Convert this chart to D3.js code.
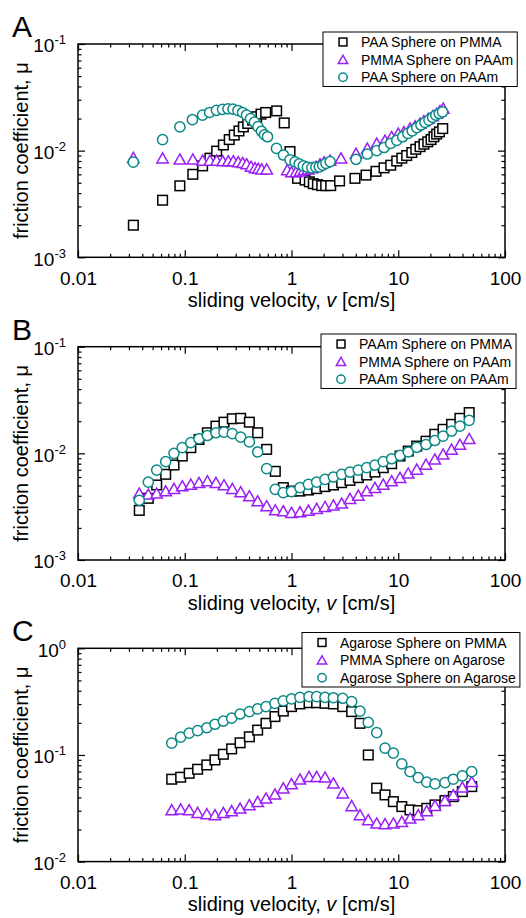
<!DOCTYPE html>
<html>
<head>
<meta charset="utf-8">
<script src="https://cdn.jsdelivr.net/npm/d3@7"></script>
<style>
  body { margin: 0; background: #fff; }
  svg { display: block; font-family: "Liberation Sans", Arial, sans-serif; }
</style>
</head>
<body>
<svg id="chart" width="526" height="918"></svg>
<script>
// ---- panel A : PAA ----
var vA_sq = [0.033, 0.062, 0.090, 0.119, 0.147, 0.172, 0.199, 0.230, 0.261, 0.291, 0.322, 0.354, 0.389, 0.433, 0.472, 0.518, 0.573, 0.726, 0.855, 0.968,
             1.14, 1.34, 1.47, 1.60, 1.75, 1.92, 2.09, 2.33, 2.82, 3.93, 4.99, 6.19, 7.36, 8.5, 9.68, 10.8, 12.0, 13.4, 14.6, 16.0, 17.4, 18.9, 20.3, 21.6, 22.9, 24.3, 26.1];
var muA_sq = [0.0020, 0.00343, 0.00468, 0.0060, 0.0072, 0.0085, 0.0099, 0.0113, 0.0127, 0.0140, 0.0153, 0.0167, 0.0180, 0.0193, 0.0208, 0.0220, 0.0228, 0.0236, 0.0182, 0.0098,
              0.0055, 0.0053, 0.0051, 0.0049, 0.0048, 0.0047, 0.0047, 0.0047, 0.0052, 0.0055, 0.0059, 0.0064, 0.0069, 0.0073, 0.0080, 0.0085, 0.0090, 0.0096, 0.0103, 0.0109, 0.0115, 0.0121, 0.0127, 0.0135, 0.0143, 0.0150, 0.0161];

var vA_tri = [0.033, 0.062, 0.090, 0.119, 0.147, 0.172, 0.199, 0.227, 0.256, 0.285, 0.317, 0.349, 0.380, 0.418, 0.455, 0.489, 0.526, 0.586,
              0.914, 1.0, 1.10, 1.20, 1.31, 1.43, 1.56, 1.70, 1.85, 2.02, 2.30, 2.91, 4.02, 5.13, 6.28, 7.51, 8.67, 10.0, 11.3, 12.9, 14.4, 16.0, 17.4, 19.1, 21.0, 22.9, 24.6, 26.4];
var muA_tri = [0.0086, 0.0085, 0.0083, 0.0083, 0.0081, 0.0081, 0.0081, 0.0080, 0.0080, 0.0080, 0.00785, 0.0077, 0.0075, 0.0071, 0.0069, 0.0068, 0.0067, 0.0067,
               0.0066, 0.0063, 0.0063, 0.0064, 0.0066, 0.0067, 0.0069, 0.0071, 0.0075, 0.0078, 0.0081, 0.0085, 0.0094, 0.0105, 0.0117, 0.0125, 0.0135, 0.0145, 0.0150, 0.0162, 0.0170, 0.0180, 0.0190, 0.0200, 0.0211, 0.0223, 0.0236, 0.0249];

var vA_cir = [0.033, 0.062, 0.090, 0.118, 0.147, 0.171, 0.198, 0.226, 0.254, 0.283, 0.315, 0.348, 0.379, 0.413, 0.450, 0.485, 0.523, 0.558, 0.596, 0.723, 0.841, 0.968,
              1.08, 1.18, 1.29, 1.41, 1.55, 1.69, 1.82, 1.96, 2.10, 2.30, 4.02, 5.13, 6.28, 7.36, 8.5, 9.68, 11.0, 12.3, 13.5, 14.9, 16.3, 17.8, 19.4, 21.0, 22.5, 24.2, 26.0];
var muA_cir = [0.0078, 0.0127, 0.0167, 0.0195, 0.0215, 0.0228, 0.0239, 0.0244, 0.0247, 0.0245, 0.0238, 0.0228, 0.0215, 0.0200, 0.0185, 0.0168, 0.0152, 0.0141, 0.0135, 0.0105, 0.0091, 0.0082,
               0.00785, 0.0075, 0.0072, 0.0070, 0.0069, 0.0070, 0.00705, 0.0073, 0.0076, 0.0079, 0.0083, 0.0093, 0.0100, 0.0107, 0.0117, 0.0125, 0.0135, 0.0145, 0.0153, 0.0164, 0.0174, 0.0184, 0.0193, 0.0205, 0.0215, 0.0223, 0.0231];

// ---- panel B : PAAm ----
var vB = [0.0375, 0.0456, 0.0546, 0.0663, 0.0793, 0.0948, 0.114, 0.136, 0.163, 0.196, 0.233, 0.279, 0.334, 0.403, 0.482, 0.585, 0.705, 0.838, 1.0, 1.20,
          1.44, 1.72, 2.06, 2.47, 2.95, 3.53, 4.23, 5.06, 6.05, 7.24, 8.67, 10.4, 12.4, 14.9, 18.2, 22.0, 26.3, 31.6, 37.8, 46.2];
var muB_sq = [0.00292, 0.00379, 0.00505, 0.00636, 0.00777, 0.00944, 0.0113, 0.0135, 0.0156, 0.0180, 0.0196, 0.0211, 0.0213, 0.0196, 0.0156, 0.0109, 0.00678, 0.00477, 0.00443, 0.00443,
              0.00453, 0.00467, 0.00488, 0.00505, 0.00531, 0.00558, 0.00592, 0.00627, 0.00668, 0.00734, 0.0080, 0.00944, 0.0105, 0.0117, 0.0130, 0.0151, 0.0168, 0.0187, 0.0213, 0.0241];
var muB_tri = [0.00422, 0.00413, 0.00422, 0.00443, 0.00467, 0.00494, 0.00512, 0.00531, 0.0055, 0.00531, 0.00505, 0.00467, 0.00434, 0.00398, 0.00357, 0.00321, 0.00294, 0.00288, 0.00278, 0.00282,
               0.00292, 0.00303, 0.00316, 0.00326, 0.0034, 0.00376, 0.00404, 0.00443, 0.00477, 0.00512, 0.0055, 0.00592, 0.0065, 0.00708, 0.00789, 0.0088, 0.0098, 0.0109, 0.0121, 0.0137];
var muB_cir = [0.00363, 0.00538, 0.00697, 0.00836, 0.0100, 0.0113, 0.0126, 0.0137, 0.0147, 0.0156, 0.0158, 0.0153, 0.0142, 0.0128, 0.0103, 0.00719, 0.0046, 0.00428, 0.00438, 0.00477,
               0.00512, 0.00538, 0.0057, 0.0060, 0.00636, 0.00668, 0.00697, 0.00734, 0.00777, 0.00836, 0.0089, 0.00958, 0.0103, 0.0114, 0.0121, 0.0132, 0.0145, 0.0162, 0.0180, 0.0204];

// ---- panel C : Agarose ----
var vC = [0.0755, 0.0916, 0.110, 0.132, 0.161, 0.192, 0.230, 0.275, 0.330, 0.403, 0.482, 0.577, 0.700, 0.838, 1.00, 1.20, 1.46, 1.72,
          2.06, 2.47, 3.02, 3.66, 4.38, 5.24, 6.28, 7.52, 9.0, 10.8, 12.9, 15.4, 18.5, 22.1, 27.4, 32.8, 39.8, 48.8];
var muC_sq = [0.0592, 0.0618, 0.0673, 0.0734, 0.0806, 0.0898, 0.1015, 0.114, 0.130, 0.148, 0.171, 0.198, 0.229, 0.258, 0.284, 0.301, 0.309, 0.309,
              0.305, 0.301, 0.284, 0.255, 0.198, 0.100, 0.0488, 0.0422, 0.0365, 0.0328, 0.0305, 0.0301, 0.0316, 0.034, 0.0373, 0.0407, 0.0453, 0.0505];
var muC_tri = [0.0305, 0.031, 0.0305, 0.0288, 0.028, 0.0274, 0.0288, 0.0299, 0.0316, 0.034, 0.0365, 0.0393, 0.0428, 0.0488, 0.0535, 0.0592, 0.0626, 0.0626,
               0.0618, 0.0543, 0.0438, 0.0333, 0.0274, 0.0246, 0.0229, 0.0226, 0.0229, 0.0237, 0.0255, 0.0274, 0.0299, 0.0335, 0.0373, 0.0422, 0.0498, 0.0562];
var muC_cir = [0.129, 0.147, 0.160, 0.169, 0.180, 0.194, 0.208, 0.221, 0.242, 0.255, 0.270, 0.284, 0.305, 0.321, 0.335, 0.347, 0.352, 0.352,
               0.347, 0.344, 0.340, 0.316, 0.258, 0.202, 0.162, 0.116, 0.104, 0.0824, 0.0697, 0.0613, 0.0555, 0.0535, 0.055, 0.0592, 0.0636, 0.0697];

var labelsA = ["PAA Sphere on PMMA", "PMMA Sphere on PAAm", "PAA Sphere on PAAm"];
var labelsB = ["PAAm Sphere on PMMA", "PMMA Sphere on PAAm", "PAAm Sphere on PAAm"];
var labelsC = ["Agarose Sphere on PMMA", "PMMA Sphere on Agarose", "Agarose Sphere on Agarose"];
var panelLetters = ["A", "B", "C"];
var xTickValues = [0.01, 0.1, 1, 10, 100];
var xTickLabels = ["0.01", "0.1", "1", "10", "100"];

var colors = {square: "#000000", triangle: "#9a1ff5", circle: "#0b8985"};
var shapes = ["square", "triangle", "circle"];

var plotL = 78, plotR = 505, plotH = 213.3;

var panels = [
    {top: 44,    yDomain: [1e-3, 1e-1], labels: labelsA, legend: {x: 323, y: 32},
     series: [[vA_sq, muA_sq], [vA_tri, muA_tri], [vA_cir, muA_cir]]},
    {top: 346.7, yDomain: [1e-3, 1e-1], labels: labelsB, legend: {x: 321, y: 334},
     series: [[vB, muB_sq], [vB, muB_tri], [vB, muB_cir]]},
    {top: 648.3, yDomain: [1e-2, 1],    labels: labelsC, legend: {x: 302, y: 632.5},
     series: [[vC, muC_sq], [vC, muC_tri], [vC, muC_cir]]}
];

var svg = d3.select("#chart");

function drawMarker(g, shape, cx, cy, k) {
    var s;
    if (shape === "square") {
        s = g.append("rect").attr("x", cx - 4.8 * k).attr("y", cy - 4.8 * k)
            .attr("width", 9.6 * k).attr("height", 9.6 * k);
    } else if (shape === "triangle") {
        s = g.append("path")
            .attr("d", "M0," + (-5.3 * k) + "L" + (5.7 * k) + "," + (4.8 * k) + "L" + (-5.7 * k) + "," + (4.8 * k) + "Z")
            .attr("transform", "translate(" + cx + "," + cy + ")");
    } else {
        s = g.append("circle").attr("cx", cx).attr("cy", cy).attr("r", 5.1 * k);
    }
    s.attr("fill", "#fff").attr("stroke", colors[shape]).attr("stroke-width", 1.5);
}

panels.forEach(function(p, pi) {
    var top = p.top, bottom = top + plotH;

    var x = d3.scaleLog().domain([0.01, 100]).range([plotL, plotR]);
    var y = d3.scaleLog().domain(p.yDomain).range([bottom, top]);

    var g = svg.append("g").attr("id", "panel" + panelLetters[pi]);

    var xMajor = xTickValues;
    var xMinor = x.ticks().filter(d => !xMajor.some(m => Math.abs(m - d) / m < 1e-6));
    var yAll = y.ticks();
    var yMajor = yAll.filter(d => Math.abs(Math.log10(d) - Math.round(Math.log10(d))) < 1e-6);
    var yMinor = yAll.filter(d => yMajor.indexOf(d) < 0);

    function clean(sel) {
        sel.select(".domain").remove();
        sel.selectAll(".tick line").attr("stroke-width", 1.2);
    }

    // ticks point inward on all four sides
    g.append("g").attr("transform", "translate(0," + bottom + ")")
        .call(d3.axisBottom(x).tickValues(xMajor).tickSizeInner(-7).tickSizeOuter(0).tickPadding(14)
            .tickFormat((d, i) => xTickLabels[i]))
        .call(clean)
        .selectAll("text").attr("font-size", 19).attr("fill", "#000").attr("font-family", null);
    g.append("g").attr("transform", "translate(0," + bottom + ")")
        .call(d3.axisBottom(x).tickValues(xMinor).tickSizeInner(-3.5).tickSizeOuter(0).tickFormat(""))
        .call(clean);
    g.append("g").attr("transform", "translate(0," + top + ")")
        .call(d3.axisTop(x).tickValues(xMajor).tickSizeInner(-7).tickSizeOuter(0).tickFormat(""))
        .call(clean);
    g.append("g").attr("transform", "translate(0," + top + ")")
        .call(d3.axisTop(x).tickValues(xMinor).tickSizeInner(-3.5).tickSizeOuter(0).tickFormat(""))
        .call(clean);

    var yl = g.append("g").attr("transform", "translate(" + plotL + ",0)")
        .call(d3.axisLeft(y).tickValues(yMajor).tickSizeInner(-7).tickSizeOuter(0).tickPadding(12).tickFormat(""))
        .call(clean);
    yl.selectAll(".tick text")
        .attr("font-size", 19).attr("fill", "#000").attr("font-family", null).attr("dy", "0.42em")
        .each(function(d) {
            var t = d3.select(this);
            t.append("tspan").text("10");
            t.append("tspan").attr("font-size", 13).attr("dy", -8).text(String(Math.round(Math.log10(d))));
        });
    g.append("g").attr("transform", "translate(" + plotL + ",0)")
        .call(d3.axisLeft(y).tickValues(yMinor).tickSizeInner(-3.5).tickSizeOuter(0).tickFormat(""))
        .call(clean);
    g.append("g").attr("transform", "translate(" + plotR + ",0)")
        .call(d3.axisRight(y).tickValues(yMajor).tickSizeInner(-7).tickSizeOuter(0).tickFormat(""))
        .call(clean);
    g.append("g").attr("transform", "translate(" + plotR + ",0)")
        .call(d3.axisRight(y).tickValues(yMinor).tickSizeInner(-3.5).tickSizeOuter(0).tickFormat(""))
        .call(clean);

    g.append("rect")
        .attr("x", plotL).attr("y", top).attr("width", plotR - plotL).attr("height", plotH)
        .attr("fill", "none").attr("stroke", "#000").attr("stroke-width", 1.5);

    // data markers: squares, then triangles, then circles on top
    p.series.forEach(function(s, si) {
        var mg = g.append("g");
        s[0].forEach(function(v, i) {
            drawMarker(mg, shapes[si], x(v), y(s[1][i]), 1);
        });
    });

    // axis titles
    var xt = g.append("text")
        .attr("x", (plotL + plotR) / 2).attr("y", bottom + 49.5)
        .attr("text-anchor", "middle").attr("font-size", 20);
    xt.append("tspan").text("sliding velocity, ");
    xt.append("tspan").attr("font-style", "italic").text("v");
    xt.append("tspan").text(" [cm/s]");

    g.append("text")
        .attr("transform", "translate(28," + (top + plotH / 2) + ") rotate(-90)")
        .attr("text-anchor", "middle").attr("font-size", 20)
        .text("friction coefficient, \u03bc");

    g.append("text")
        .attr("x", 12).attr("y", top - 7)
        .attr("font-size", 30)
        .text(panelLetters[pi]);

    // legend
    var lg = g.append("g").attr("transform", "translate(" + p.legend.x + "," + p.legend.y + ")");
    var box = lg.append("rect").attr("fill", "#fff").attr("stroke", "#000").attr("stroke-width", 1);
    var maxW = 0;
    p.labels.forEach(function(lab, i) {
        var cy = 10 + i * 17.6;
        drawMarker(lg, shapes[i], 20, cy, 0.82);
        var t = lg.append("text").attr("x", 38).attr("y", cy).attr("dy", "0.36em")
            .attr("font-size", 14).text(lab);
        maxW = Math.max(maxW, t.node().getComputedTextLength());
    });
    box.attr("width", 38 + maxW + 4).attr("height", 54.5);
});
</script>
</body>
</html>
